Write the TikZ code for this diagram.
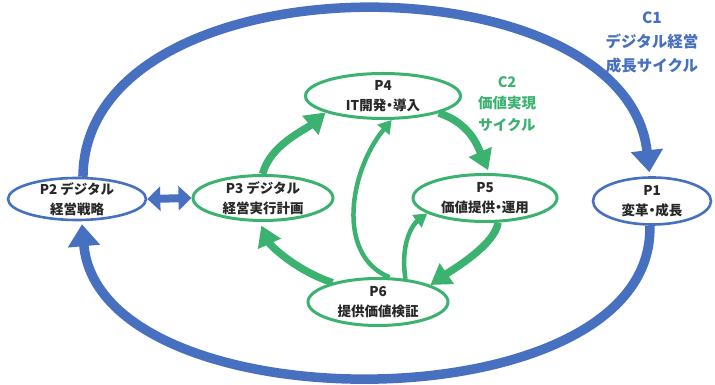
\documentclass[tikz,border=0pt]{standalone}
\usepackage{fontspec}
\setmainfont{Noto Sans CJK JP}
\usepackage{tikz}
\usetikzlibrary{shapes.geometric, arrows.meta}
\definecolor{cycblue}{RGB}{72,112,192}
\definecolor{cycgreen}{RGB}{60,178,112}
\definecolor{txtgray}{RGB}{40,40,40}
\newcommand{\mdot}{{\addfontfeature{RawFeature=+halt}・}}
\tikzstyle{stepnode} = [ellipse, fill=white, inner xsep=0pt, inner ysep=-7pt, align=center, text=txtgray, font=\bfseries\fontsize{13.5}{19.5}\selectfont]
\tikzstyle{bluestep} = [stepnode, draw=cycblue, line width=2.6pt]
\tikzstyle{greenstep} = [stepnode, draw=cycgreen, line width=3pt]
\tikzstyle{cyclelabel} = [align=center, font=\bfseries\fontsize{15.5}{24}\selectfont]
\tikzstyle{bigarrow} = [line width=9.5pt, draw=cycblue, -{Triangle[width=31pt,length=22pt]}]
\tikzstyle{linkarrow} = [line width=8pt, draw=cycblue, {Triangle[width=24pt,length=13pt]}-{Triangle[width=24pt,length=13pt]}]
\tikzstyle{cyclearrow} = [line width=7.5pt, draw=cycgreen, -{Triangle[width=24pt,length=20pt]}]
\tikzstyle{thinarrow} = [line width=4.5pt, draw=cycgreen, -{Triangle[width=15pt,length=13pt]}]

\begin{document}
\begin{tikzpicture}[x=1pt,y=1pt]
\useasboundingbox (0,0) rectangle (715,385);

\node (P2) [bluestep, minimum width=138pt, minimum height=42pt] at (77,186) {P2 デジタル\\経営戦略};
\node (P3) [greenstep, minimum width=140pt, minimum height=45pt] at (263,187) {P3 デジタル\\経営実行計画};
\node (P4) [greenstep, minimum width=155pt, minimum height=45pt] at (383,289) {P4\\IT開発\mdot 導入};
\node (P5) [greenstep, minimum width=144pt, minimum height=47pt] at (485,187) {P5\\価値提供\mdot 運用};
\node (P6) [greenstep, minimum width=140pt, minimum height=47pt] at (378,83) {P6\\提供価値検証};
\node (P1) [bluestep, minimum width=118pt, minimum height=47pt] at (652,184) {P1\\変革\mdot 成長};

\node (C1) [cyclelabel, text=cycblue] at (652,343) {C1\\デジタル経営\\成長サイクル};
\node (C2) [cyclelabel, text=cycgreen, font=\bfseries\fontsize{14.5}{21.5}\selectfont] at (507,281) {C2\\価値実現\\サイクル};

% outer cycle
\draw [bigarrow, shorten >=4pt] (P2.75) .. controls (85,430) and (625,430) .. (P1.95);
\draw [bigarrow, shorten >=3pt] (P1.265) .. controls (655,-42) and (100,-42) .. (P2.282);
\draw [linkarrow] (P2.east) -- (P3.west);

% inner cycle
\draw [cyclearrow] (P3.91) .. controls (270,240) and (305,255) .. (P4.196);
\draw [cyclearrow, shorten >=3pt] (P4.343) .. controls (470,262) and (478,238) .. (P5.80);
\draw [cyclearrow] (P5.298) .. controls (495,140) and (452,115) .. (P6.18);
\draw [cyclearrow, shorten >=4pt] (P6.157) .. controls (295,115) and (270,140) .. (P3.262);
\draw [thinarrow] (P6.65) .. controls (335,130) and (350,215) .. (P4.290);
\draw [thinarrow] (P6.40) .. controls (400,140) and (412,160) .. (P5.195);

\end{tikzpicture}
\end{document}
